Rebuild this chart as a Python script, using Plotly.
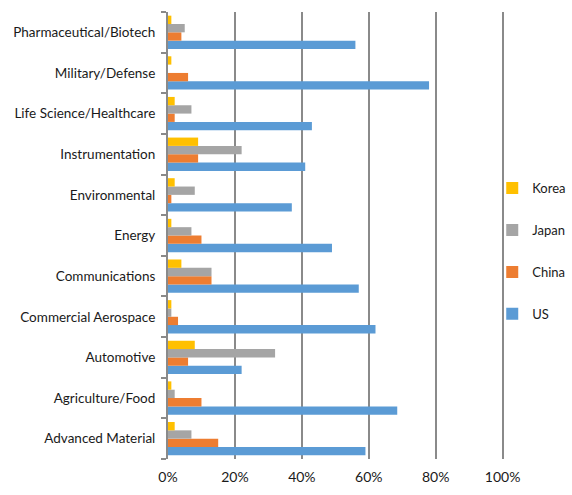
import plotly.graph_objects as go

categories = ["Advanced Material", "Agriculture/Food", "Automotive", "Commercial Aerospace",
              "Communications", "Energy", "Environmental", "Instrumentation",
              "Life Science/Healthcare", "Military/Defense", "Pharmaceutical/Biotech"]
us = [0.59, 0.685, 0.22, 0.62, 0.57, 0.49, 0.37, 0.41, 0.43, 0.78, 0.56]
china = [0.15, 0.10, 0.06, 0.03, 0.13, 0.10, 0.01, 0.09, 0.02, 0.06, 0.04]
japan = [0.07, 0.02, 0.32, 0.01, 0.13, 0.07, 0.08, 0.22, 0.07, 0.0, 0.05]
korea = [0.02, 0.01, 0.08, 0.01, 0.04, 0.01, 0.02, 0.09, 0.02, 0.01, 0.01]

series = [("US", us, "#5B9BD5", 4), ("China", china, "#ED7D31", 3),
          ("Japan", japan, "#A5A5A5", 2), ("Korea", korea, "#FFC000", 1)]

font = "Lato, 'Liberation Sans', sans-serif"
fig = go.Figure()
for name, vals, color, rank in series:
    fig.add_trace(go.Bar(y=categories, x=vals, name=name, orientation="h",
                         marker=dict(color=color, line=dict(width=0)),
                         legendgroup=name, legendrank=rank))

fig.update_layout(
    width=572, height=495,
    margin=dict(l=168, r=68, t=12, b=36, autoexpand=False),
    paper_bgcolor="white", plot_bgcolor="white",
    barmode="group", bargap=0.18, bargroupgap=0,
    font=dict(family=font, size=13, color="#1a1a1a"),
    legend=dict(x=0.965, xanchor="left", y=0.465, yanchor="middle",
                traceorder="grouped", tracegroupgap=22,
                bgcolor="rgba(0,0,0,0)",
                font=dict(size=13, color="#1a1a1a"),
                itemwidth=30),
    showlegend=True,
)
fig.update_xaxes(range=[0, 1.004], tickvals=[0, 0.2, 0.4, 0.6, 0.8, 1.0],
                 tickformat=".0%", showgrid=True, gridcolor="#8a8a8a", gridwidth=2,
                 zeroline=False, showline=False, tickfont=dict(size=14), ticks="",
                 ticklabelstandoff=8)
fig.update_yaxes(showline=True, linecolor="#8a8a8a", linewidth=2,
                 ticks="outside", tickson="boundaries", ticklen=5, tickcolor="#8a8a8a",
                 tickwidth=2, showgrid=False, tickfont=dict(size=13.5),
                 ticklabelstandoff=8)

fig.write_html("out.html", config={"displayModeBar": False},
               post_script="document.body.style.margin='0';document.body.style.overflow='hidden';")
